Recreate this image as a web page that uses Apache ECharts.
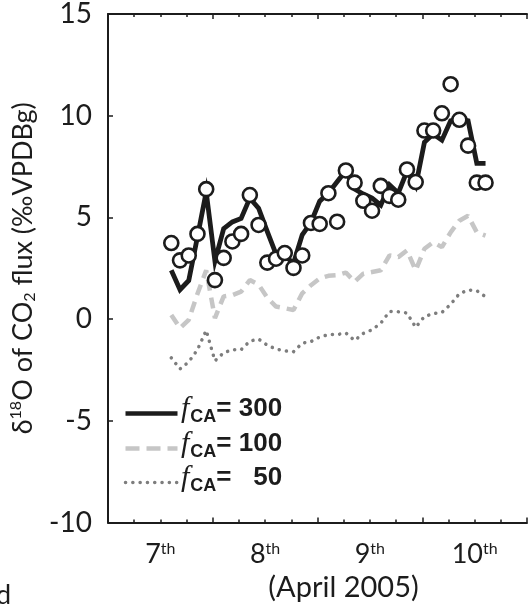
<!DOCTYPE html>
<html>
<head>
<meta charset="utf-8">
<script src="https://cdn.jsdelivr.net/npm/echarts@6/dist/echarts.min.js"></script>
<style>
  html, body { margin: 0; padding: 0; background: #fff; }
  #chart { width: 530px; height: 607px; }
</style>
</head>
<body>
<div id="chart"></div>
<script>
// Hours since 7 April 2005 00:00 (two-hourly samples)
var hours = [14.5, 16.5, 18.5, 20.5, 22.5, 24.5, 26.5, 28.5, 30.5, 32.5,
             34.5, 36.5, 38.5, 40.5, 42.5, 44.5, 46.5, 48.5, 50.5, 52.5,
             54.5, 56.5, 58.5, 60.5, 62.5, 64.5, 66.5, 68.5, 70.5, 72.5,
             74.5, 76.5, 78.5, 80.5, 82.5, 84.5, 86.5];

// Measured delta18O of the CO2 flux (open circles)
var observed = [3.74, 2.89, 3.13, 4.19, 6.39, 1.92, 3.01, 3.82, 4.19, 6.10,
                4.63, 2.78, 2.97, 3.25, 2.52, 3.13, 4.73, 4.68, 6.19, 4.79,
                7.31, 6.71, 5.82, 5.33, 6.55, 6.06, 5.87, 7.36, 6.74, 9.27,
                9.27, 10.12, 11.55, 9.80, 8.53, 6.71, 6.71];

// Modelled flux for three carbonic anhydrase enhancement factors
var fca300 = [2.40, 1.45, 1.90, 4.05, 6.25, 2.85, 4.45, 4.78, 4.95, 5.95,
              5.45, 4.30, 3.20, 3.12, 2.75, 4.15, 4.75, 5.80, 6.20, 6.75,
              7.30, 6.40, 6.15, 5.95, 5.60, 6.60, 6.20, 7.27, 6.55, 8.70,
              9.10, 8.80, 9.75, 9.85, 9.75, 7.66, 7.66];
var fca100 = [0.21, -0.44, -0.03, 1.25, 2.40, 0.05, 1.12, 1.18, 1.35, 1.92,
              1.70, 1.05, 0.62, 0.54, 0.45, 1.27, 1.67, 2.00, 2.13, 2.16,
              2.29, 1.84, 2.24, 2.32, 2.40, 3.13, 3.05, 3.38, 2.40, 3.46,
              3.78, 3.54, 4.27, 4.84, 5.08, 4.27, 4.11];
var fca50 = [-1.90, -2.45, -2.10, -1.50, -0.55, -2.05, -1.65, -1.50, -1.50, -1.08,
             -0.98, -1.28, -1.47, -1.56, -1.60, -1.18, -1.10, -0.88, -0.76, -0.76,
             -0.68, -1.05, -0.70, -0.52, -0.20, 0.38, 0.36, 0.30, -0.40, 0.13,
             0.27, 0.33, 0.73, 1.25, 1.43, 1.40, 1.10];

var dayLabels = ['7', '8', '9', '10'];
var yTicks = { min: -10, max: 15, step: 5 };
var legendNames = ['300', '100', '  50'];

function pairs(ys) {
  return ys.map(function (v, i) { return [hours[i], v]; });
}

var INK = '#1c1c1c';
var DASH_GREY = '#c6c6c6';
var DOT_GREY = '#7d7d7d';
var SANS = 'Lato, "Noto Sans", sans-serif';
var BOLD = '"Liberation Sans", Arial, sans-serif';

var chart = echarts.init(document.getElementById('chart'), null, { renderer: 'canvas' });

var baseX = {
  type: 'value', min: 0, max: 96, interval: 24,
  axisLine: { show: true, onZero: false, lineStyle: { color: INK, width: 2 } },
  axisTick: { show: true, inside: true, length: 5, lineStyle: { color: INK, width: 1.5 } },
  minorTick: { show: true, splitNumber: 4, length: 3, lineStyle: { color: INK, width: 1.5 } },
  axisLabel: { show: false },
  splitLine: { show: false }
};

var legendRows = [
  { y: 412, style: { stroke: INK, lineWidth: 4.5, lineDash: null, lineCap: 'butt' } },
  { y: 447, style: { stroke: DASH_GREY, lineWidth: 4.5, lineDash: [14, 7], lineCap: 'butt' } },
  { y: 481, style: { stroke: DOT_GREY, lineWidth: 3.5, lineDash: [0.1, 7.2], lineCap: 'round' } }
];

var graphics = [];
legendRows.forEach(function (row, i) {
  graphics.push({
    type: 'line', left: 123, top: row.y - 1,
    shape: { x1: 0, y1: 0, x2: 52, y2: 0 },
    style: row.style
  });
  graphics.push({
    type: 'text', left: 181, top: row.y - 18,
    style: {
      text: '{f|f}{s|CA}{e|= ' + legendNames[i] + '}',
      rich: {
        f: { fontFamily: '"Liberation Serif", serif', fontStyle: 'italic', fontSize: 30, fill: INK, lineHeight: 34, padding: [0, 1, 0, 0] },
        s: { fontFamily: BOLD, fontWeight: 'bold', fontSize: 18, fill: INK, verticalAlign: 'bottom', lineHeight: 16 },
        e: { fontFamily: BOLD, fontWeight: 'bold', fontSize: 26, fill: INK, lineHeight: 34 }
      }
    }
  });
});
graphics.push({
  type: 'text', left: -4, top: 582,
  style: { text: 'd', fontFamily: SANS, fontSize: 27, fill: INK }
});

chart.setOption({
  animation: false,
  backgroundColor: '#fff',
  grid: { left: 108, top: 13, width: 428, height: 513, containLabel: false },
  xAxis: [
    Object.assign({}, baseX, { position: 'bottom' }),
    {
      type: 'value', min: 0, max: 96, interval: 12, position: 'bottom',
      axisLine: { show: false }, axisTick: { show: false }, splitLine: { show: false },
      axisLabel: {
        show: true, margin: 18,
        formatter: function (v) {
          if (v % 24 !== 12) return '';
          var d = dayLabels[(v - 12) / 24];
          return '{n|' + d + '}{s|th}';
        },
        rich: {
          n: { fontFamily: SANS, fontSize: 27, color: INK, lineHeight: 28 },
          s: { fontFamily: SANS, fontSize: 16, color: INK, verticalAlign: 'top', lineHeight: 18 }
        }
      },
      name: '(April 2005)', nameLocation: 'middle', nameGap: 49,
      nameTextStyle: { fontFamily: SANS, fontSize: 29, color: INK, padding: [0, 0, 0, 52] }
    },
    Object.assign({}, baseX, { position: 'top' })
  ],
  yAxis: {
    type: 'value', min: yTicks.min, max: yTicks.max, interval: yTicks.step,
    axisLine: { show: true, lineStyle: { color: INK, width: 2 } },
    axisTick: { show: true, inside: true, length: 5, lineStyle: { color: INK, width: 1.5 } },
    axisLabel: { fontFamily: SANS, fontSize: 28, color: INK, margin: 16 },
    splitLine: { show: false },
    name: '{n|δ}{sup|18}{n|O of CO}{sub|2}{n| flux (‰VPDBg)}',
    nameLocation: 'middle', nameRotate: 90, nameGap: 61,
    nameTextStyle: {
      rich: {
        n: { fontFamily: SANS, fontSize: 27, color: INK, lineHeight: 30 },
        sup: { fontFamily: SANS, fontSize: 16, color: INK, verticalAlign: 'top', lineHeight: 16 },
        sub: { fontFamily: SANS, fontSize: 16, color: INK, verticalAlign: 'bottom', lineHeight: 13 }
      }
    }
  },
  graphic: graphics,
  series: [
    {
      name: 'fCA = 50', type: 'line', data: pairs(fca50), showSymbol: false, z: 2,
      lineStyle: { color: DOT_GREY, width: 3.5, type: [0.1, 7.2], cap: 'round' }
    },
    {
      name: 'fCA = 100', type: 'line', data: pairs(fca100), showSymbol: false, z: 3,
      lineStyle: { color: DASH_GREY, width: 4.5, type: [11, 7], cap: 'butt' }
    },
    {
      name: 'fCA = 300', type: 'line', data: pairs(fca300), showSymbol: false, z: 4,
      lineStyle: { color: INK, width: 4.8, join: 'miter' }
    },
    {
      name: 'observed', type: 'scatter', data: pairs(observed), z: 5,
      symbol: 'circle', symbolSize: 14,
      itemStyle: { color: '#fff', opacity: 1, borderColor: INK, borderWidth: 2.6 }
    }
  ]
});
</script>
</body>
</html>
